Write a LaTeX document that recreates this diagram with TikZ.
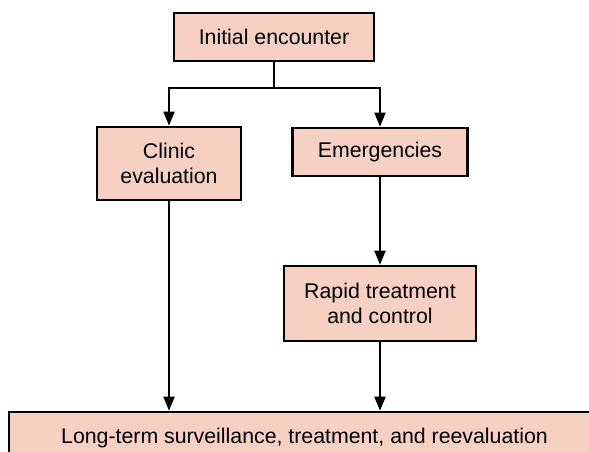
\documentclass[tikz,border=0pt]{standalone}
\usepackage{fontspec}
\setmainfont{Liberation Sans}
\usetikzlibrary{arrows.meta}
\definecolor{boxfill}{RGB}{247,208,196}
\begin{document}
\begin{tikzpicture}[x=1pt,y=-1pt,
  box/.style={draw=black,fill=boxfill,line width=2.6pt,inner sep=0pt,align=center,
    font=\fontsize{21.3}{25.5}\selectfont},
  arr/.style={line width=1.8pt,-{Triangle[length=14pt,width=11pt]}}]
\useasboundingbox (0,0) rectangle (589,451);
\clip (0,0) rectangle (589,451);
\node[box,minimum width=200pt,minimum height=48pt] (init) at (274,37) {\raisebox{-2pt}{Initial encounter}};
\node[box,minimum width=144pt,minimum height=73pt] (clinic) at (169,163.5) {Clinic\\evaluation};
\node[box,minimum width=175pt,minimum height=48pt] (emerg) at (380,152) {\raisebox{-3pt}{Emergencies}};
\node[box,minimum width=192pt,minimum height=75pt] (rapid) at (380,303.5) {Rapid treatment\\and control};
\node[box,minimum width=591pt,minimum height=52pt] (final) at (304.5,438) {Long-term surveillance, treatment, and reevaluation};
\coordinate (j) at (274,88);
\draw[line width=1.8pt] (init.south) -- (j);
\draw[arr] (j) -| (clinic.north);
\draw[arr] (j) -| (emerg.north);
\draw[arr] (emerg.south) -- (rapid.north);
\draw[arr] (rapid.south) -- (rapid.south |- final.north);
\draw[arr] (clinic.south) -- (clinic.south |- final.north);
\end{tikzpicture}
\end{document}
